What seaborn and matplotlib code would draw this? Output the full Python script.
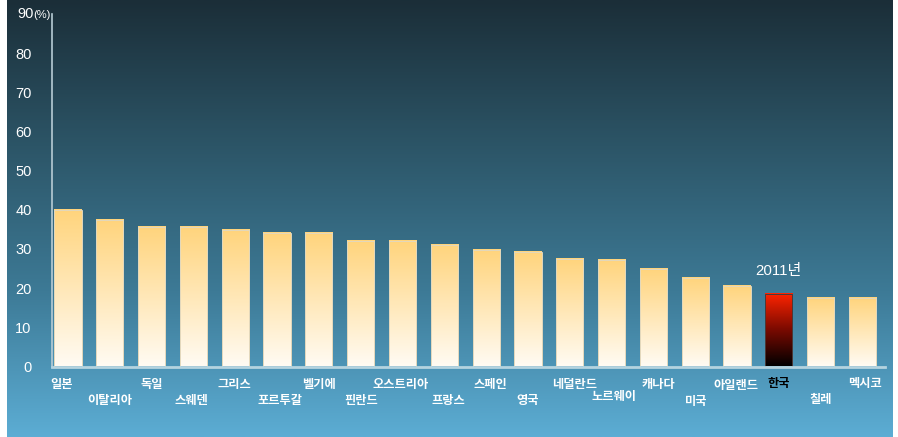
import numpy as np
import matplotlib
matplotlib.use("Agg")
import matplotlib.pyplot as plt
import matplotlib.colors as mcolors
import seaborn as sns

# ---------------- data ----------------
countries = ["일본", "이탈리아", "독일", "스웨덴", "그리스", "포르투갈", "벨기에", "핀란드",
             "오스트리아", "프랑스", "스페인", "영국", "네덜란드", "노르웨이", "캐나다", "미국",
             "아일랜드", "한국", "칠레", "멕시코"]
values = [40.0, 37.3, 35.7, 35.7, 34.9, 34.2, 34.1, 32.1, 32.1, 30.9,
          29.8, 29.3, 27.4, 27.3, 24.8, 22.6, 20.5, 18.5, 17.5, 17.5]
highlight = "한국"
annotation = "2011년"
y_ticks = [0, 10, 20, 30, 40, 50, 60, 70, 80, 90]
unit = "(%)"

# ---------------- layout (pixels) ----------------
W, H = 898, 437
DPI = 100
label_rows = [1, 2, 1, 2, 1, 2, 1, 2, 1, 2, 1, 2, 1, 2, 1, 2, 1, 1, 2, 1]
label_row_y = {1: 384.5, 2: 400.5}
label_dx = [-6.5, 0, 0.5, -1.7, -1, 2.7, 0.5, 0, -1.4, 4.5,
            4, 0, 4.7, 2.4, 5, 0.8, -0.8, 0.4, 0, 2.8]
label_dy = [0, 0, 0, 0, 0, 0, 0, 0, 0, 0,
            0, 0, 0, -4, 0, 0.5, 0.5, -1, -1.5, -1]

sns.set_theme(style="white")
plt.rcParams['font.family'] = ['Liberation Sans', 'Noto Sans CJK KR', 'DejaVu Sans']

fig = plt.figure(figsize=(W / DPI, H / DPI), dpi=DPI)
fig.patch.set_facecolor("white")

# background gradient panel
bg = fig.add_axes([7 / W, 0, (893 - 7) / W, 1], zorder=-5)
bg_cmap = mcolors.LinearSegmentedColormap.from_list(
    "bg", ["#1b2e38", "#2c5567", "#3d7a96", "#5cadd4"])
grad = np.linspace(0, 1, 256).reshape(-1, 1)
bg.imshow(grad, aspect="auto", cmap=bg_cmap, extent=[0, 1, 1, 0])
bg.set_axis_off()

# main axes
ax_left, ax_right = 51.7, 885
ax_top, ax_bottom = 14, 366.5
ax = fig.add_axes([ax_left / W, (H - ax_bottom) / H,
                   (ax_right - ax_left) / W, (ax_bottom - ax_top) / H])
ax.set_facecolor("none")

sns.barplot(x=countries, y=values, order=countries, color="#ffd37a",
            width=0.65, ax=ax, saturation=1)

yellow_cmap = mcolors.LinearSegmentedColormap.from_list("yl", ["#fffbf3", "#ffd47c"])
red_cmap = mcolors.LinearSegmentedColormap.from_list("rd", ["#000000", "#7a0a00", "#ff2400"])
vgrad = np.linspace(0, 1, 256).reshape(-1, 1)

for i, p in enumerate(ax.patches):
    x0 = p.get_x()
    w = p.get_width()
    h = p.get_height()
    cmap = red_cmap if countries[i] == highlight else yellow_cmap
    ax.imshow(vgrad, aspect="auto", cmap=cmap, origin="lower",
              extent=[x0, x0 + w, 0, h], zorder=2)
    p.set_facecolor("none")
    p.set_edgecolor("#4a3a3a" if countries[i] == highlight else "#e3d8bc")
    p.set_linewidth(0.7)
    p.set_zorder(3)

ax.set_xlim(-0.39, len(countries) - 1 + 0.54)
ax.set_ylim(0, 90)
ax.set_yticks(y_ticks)
ax.set_yticklabels([str(t) if t != 90 else "" for t in y_ticks])
ax.tick_params(axis="y", length=0, pad=14.5, labelcolor="white", labelsize=10.5)
ax.set_xticks([])
ax.set_xlabel("")
ax.set_ylabel("")

for s in ["top", "right"]:
    ax.spines[s].set_visible(False)
ax.spines["left"].set_color("#b7ccd5")
ax.spines["left"].set_linewidth(1.2)
ax.spines["bottom"].set_color("#b5d3df")
ax.spines["bottom"].set_linewidth(2)
ax.spines["bottom"].set_zorder(4)

# 90 (%) label
fig.text(33.5 / W, 1 - 14 / H, "90", color="white", fontsize=10.5,
         ha="right", va="center")
fig.text(33.0 / W, 1 - 14.5 / H, unit, color="white", fontsize=8,
         ha="left", va="center")

# country labels
axh = ax_bottom - ax_top
trans = ax.get_xaxis_transform()
px_per_unit = (ax_right - ax_left) / (len(countries) - 1 + 0.54 + 0.39)
for i, name in enumerate(countries):
    ypx = label_row_y[label_rows[i]] + label_dy[i]
    yax = -(ypx - ax_bottom) / axh
    xdat = i + label_dx[i] / px_per_unit
    col = "black" if name == highlight else "white"
    ax.text(xdat, yax, name, transform=trans, ha="center", va="center",
            color=col, fontsize=8.8, fontweight="bold",
            family=["Noto Sans CJK KR", "DejaVu Sans"], clip_on=False)

# annotation
hi = countries.index(highlight)
ax.text(hi, values[hi] + 5.9, annotation, ha="center", va="center",
        color="white", fontsize=10.8)

fig.savefig("out.png", dpi=DPI)
